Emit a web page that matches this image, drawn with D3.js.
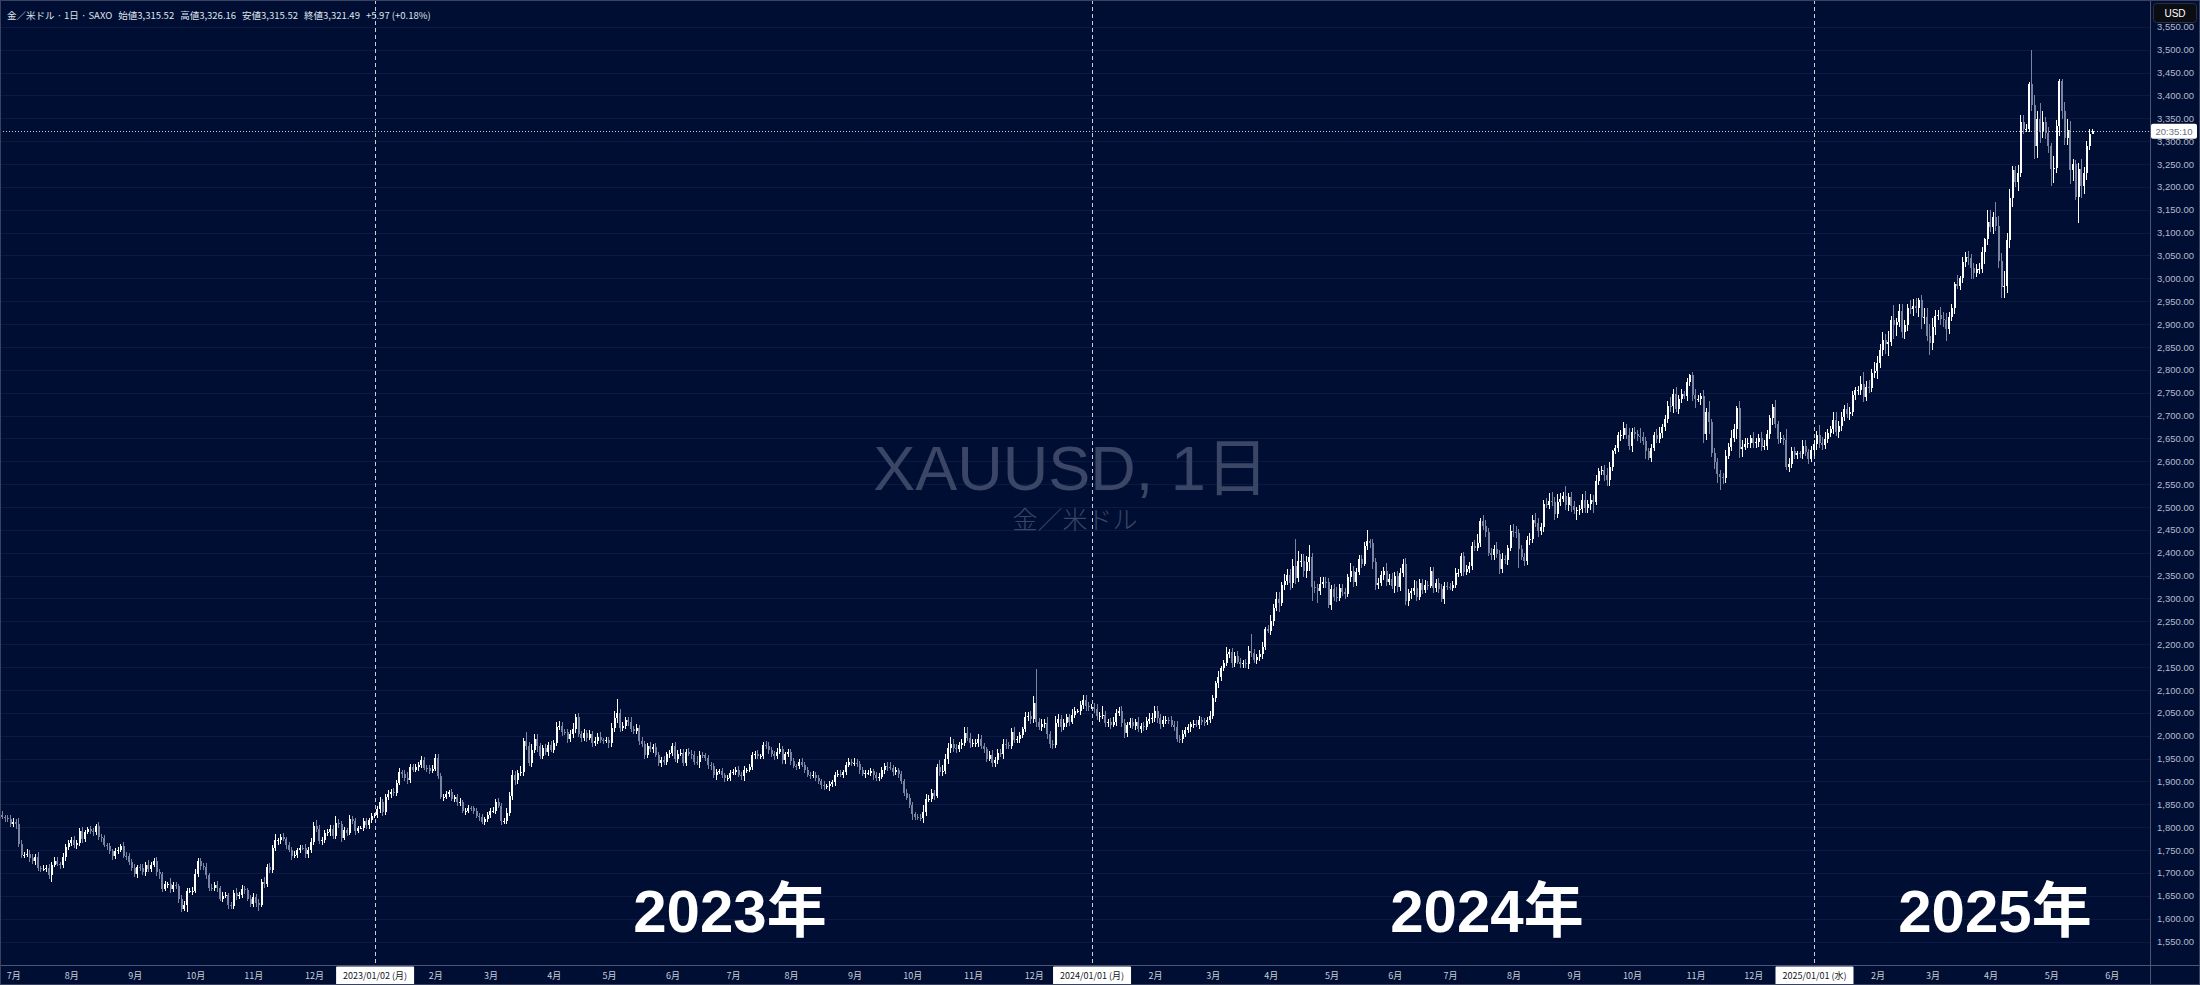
<!DOCTYPE html>
<html><head><meta charset="utf-8">
<script src="https://cdn.jsdelivr.net/npm/d3@7"></script>
<style>html,body{margin:0;padding:0;background:#000e33;}svg{display:block}</style>
</head><body><svg id="c" width="2200" height="985"></svg>
<script>
// ---------------- DATA (daily closes, grouped by month) ----------------
const close2022 = [
 [1827,1822,1820,1817,1807],
 [1811,1808,1764,1739,1740, 1742,1733,1725,1735,1711, 1708,1709,1711,1696,1718, 1727,1719,1717,1734,1756, 1766],
 [1772,1760,1765,1791,1775, 1789,1795,1792,1789,1802, 1779,1776,1761,1758,1747, 1736,1748,1751,1758,1738, 1737,1723,1711],
 [1697,1712, 1710,1702,1718,1708,1717, 1725,1702,1697,1665,1675, 1676,1664,1674,1671,1644, 1622,1629,1660,1660,1661],
 [1698,1725,1716,1712,1695, 1668,1666,1673,1666,1644, 1650,1652,1629,1627,1657, 1649,1652,1665,1663,1644, 1633],
 [1647,1635,1630,1681, 1676,1712,1706,1755,1771, 1771,1778,1774,1761,1751, 1738,1740,1750,1755,1754, 1741,1750,1768],
 [1803,1797, 1769,1772,1787,1789,1797, 1781,1810,1807,1777,1793, 1788,1818,1813,1792,1798, 1798,1814,1804,1815,1824]
];
const close2023 = [
 [1827,1839,1855,1833,1865, 1872,1877,1875,1897,1920, 1916,1908,1904,1932,1926, 1931,1937,1946,1930,1929, 1923,1928],
 [1951,1912,1865, 1867,1873,1876,1862,1865, 1854,1854,1836,1836,1842, 1841,1835,1825,1822,1811, 1817,1826],
 [1836,1836,1855, 1847,1813,1814,1831,1868, 1913,1904,1918,1920,1988, 1978,1940,1969,1993,1977, 1956,1973,1964,1980,1969],
 [1984,2020,2021,2008,2007, 1992,2003,2015,2040,2004, 1995,2006,1995,2004,1983, 1989,1998,1990,1988,1990],
 [1983,2017,2039,2050,2017, 2021,2034,2030,2015,2011, 2017,1989,1982,1958,1978, 1971,1975,1958,1941,1946, 1943,1959,1963],
 [1978,1948, 1961,1963,1940,1965,1961, 1957,1943,1942,1958,1957, 1951,1936,1933,1913,1921, 1923,1914,1907,1908,1919],
 [1921,1926,1915,1911,1925, 1925,1932,1957,1961,1955, 1955,1979,1977,1969,1961, 1955,1965,1971,1946,1959, 1965],
 [1944,1934,1933,1943, 1936,1925,1915,1913,1914, 1907,1901,1892,1889,1889, 1894,1898,1915,1917,1915, 1920,1937,1942,1940],
 [1940, 1938,1926,1916,1919,1919, 1922,1913,1908,1910,1924, 1934,1931,1930,1920,1925, 1916,1900,1875,1864,1849],
 [1828,1822,1821,1820,1833, 1861,1861,1874,1868,1932, 1920,1923,1948,1974,1981, 1973,1971,1979,1985,2006, 1996,1983],
 [1983,1985,1992, 1978,1970,1950,1958,1940, 1946,1963,1959,1981,1980, 1977,2007,1990,1992,2002, 2014,2041,2044,2036],
 [2072, 2029,2019,2025,2028,2004, 1982,1980,2027,2036,2019, 2027,2040,2031,2046,2053, 2053,2067,2077,2065,2063]
];
const close2024 = [
 [2063,2059,2042,2043,2045, 2027,2029,2024,2029,2049, 2055,2028,2006,2023,2029, 2021,2029,2015,2021,2018, 2033,2037,2039],
 [2055,2039, 2025,2035,2035,2034,2024, 2020,1993,1992,2004,2013, 2018,2025,2026,2024,2035, 2031,2030,2034,2044],
 [2083, 2115,2128,2148,2159,2179, 2182,2158,2174,2162,2156, 2160,2157,2186,2181,2165, 2172,2178,2194,2233,2230],
 [2251,2280,2300,2290,2329, 2338,2352,2333,2372,2344, 2383,2383,2361,2379,2391, 2326,2322,2316,2332,2337, 2335,2286],
 [2320,2304,2301, 2323,2314,2309,2346,2360, 2336,2358,2386,2376,2415, 2425,2421,2379,2329,2334, 2351,2361,2337,2343,2327],
 [2350,2326,2355,2375,2294, 2311,2316,2324,2303,2333, 2319,2330,2328,2360,2322, 2334,2320,2298,2327,2326],
 [2324,2330,2356,2356,2392, 2358,2364,2372,2415,2411, 2422,2469,2459,2445,2400, 2396,2409,2398,2365,2386, 2384,2410,2447],
 [2446,2443, 2409,2390,2382,2427,2431, 2472,2465,2447,2456,2507, 2504,2514,2512,2485,2512, 2518,2525,2504,2521,2503],
 [2493,2493,2495,2516,2497, 2506,2516,2512,2558,2578, 2582,2569,2559,2587,2622, 2628,2657,2657,2672,2658, 2634],
 [2663,2659,2656,2653, 2644,2622,2608,2630,2657, 2649,2662,2674,2693,2721, 2720,2748,2715,2736,2747, 2743,2774,2788,2744],
 [2736, 2736,2742,2659,2707,2685, 2618,2598,2573,2565,2563, 2612,2631,2651,2670,2716, 2626,2632,2638,2640,2650],
 [2640,2643,2650,2632,2633, 2660,2694,2718,2681,2648, 2652,2646,2587,2594,2622, 2613,2618,2616,2634,2621, 2606,2624]
];
const close2025 = [
 [2637,2658,2640, 2636,2649,2662,2670,2690, 2663,2677,2696,2715,2703, 2708,2744,2755,2756,2770, 2740,2763,2760,2794,2798],
 [2815,2843,2866,2857,2861, 2908,2898,2904,2929,2882, 2898,2935,2933,2939,2936, 2952,2915,2916,2875,2858],
 [2893,2918,2920,2911,2910, 2889,2916,2935,2988,2984, 3001,3035,3047,3044,3022, 3012,3020,3020,3057,3085, 3124],
 [3113,3134,3114,3037, 2982,2983,3083,3175,3237, 3210,3230,3343,3327,3327, 3424,3380,3289,3349,3319, 3343,3317,3289],
 [3239,3241, 3334,3431,3366,3306,3325, 3236,3249,3178,3240,3202, 3230,3289,3315.52,3321.49]
];
// upper wick above the body top, in USD
const wickHi2022 = [
 [6,8,5,7,9],
 [9,6,12,8,6,10,7,9,6,10,5,8,7,9,6,8,7,5,10,8,6],
 [6,9,8,7,10,5,6,8,7,5,9,6,7,5,8,6,7,5,6,9,7,6,8],
 [8,6,7,9,5,10,6,8,9,7,6,8,5,12,7,6,5,8,10,6,7,9],
 [10,8,7,6,9,5,7,8,10,6,9,7,5,8,6,9,7,8,6,5,7],
 [8,6,7,6,9,8,10,7,15,6,8,9,5,7,6,8,5,6,7,9,6,8],
 [9,12,8,6,7,6,8,7,14,8,6,7,5,9,6,8,5,4,7,6,5,7]
];
const wickLo2022 = [
 [5,4,8,6,6],
 [6,12,8,7,6,5,9,5,8,7,6,4,7,9,16,6,5,8,6,7,5],
 [7,5,8,6,9,7,5,6,8,7,6,9,5,7,6,8,5,7,6,5,8,6,7],
 [6,8,5,7,9,6,7,5,8,10,7,5,8,9,6,7,9,8,6,14,5,8],
 [5,7,9,6,8,7,5,6,8,6,7,5,9,7,6,8,5,7,9,6,8],
 [7,9,14,5,8,6,7,6,8,9,7,5,8,6,9,5,7,6,5,8,9,6],
 [6,8,5,9,7,6,8,6,7,9,10,6,8,5,7,9,4,3,6,7,8,5]
];
const wickHi2023 = [
 [5,8,10,6,7,9,6,8,7,9,5,8,12,6,7,8,5,9,7,6,8,9],
 [9,8,6,5,7,6,8,5,7,9,6,5,7,4,6,8,5,7,6,8],
 [6,8,7,9,5,6,10,8,12,10,8,14,7,21,9,12,10,11,8,7,9,6,8],
 [7,9,11,8,6,7,10,12,8,9,6,8,7,9,6,8,7,9,6,8],
 [8,10,14,31,9,8,7,6,10,7,9,6,8,7,6,9,7,8,6,7,9,6,5],
 [6,9,8,7,9,6,8,7,10,12,8,6,5,7,6,8,7,5,6,4,7,6],
 [7,5,8,6,9,4,7,8,6,7,5,8,10,9,7,6,8,12,6,5,7],
 [6,8,5,7,9,6,7,5,8,6,7,5,8,6,7,5,6,7,8,5,6,9,8],
 [12,8,7,6,5,7,8,6,7,9,8,7,9,12,7,6,5,7,6,8,9],
 [6,5,7,8,16,12,9,10,8,7,15,12,11,10,16,11,9,8,7,12,13,10],
 [10,8,11,9,7,6,8,10,7,9,8,11,12,6,9,12,8,7,6,11,8,9],
 [14,74,10,11,9,12,6,8,15,11,10,9,8,7,12,10,5,8,11,13,9]
];
const wickLo2023 = [
 [4,6,7,9,6,5,8,6,7,5,8,6,9,7,5,6,8,7,6,8,7,5],
 [6,7,4,8,6,7,5,6,8,7,5,9,6,5,7,6,8,5,7,6],
 [7,5,8,6,9,5,7,6,8,11,9,7,8,10,6,9,7,12,8,6,7,9,5],
 [6,7,8,9,5,7,6,8,10,7,9,6,8,5,7,6,8,7,6,5],
 [10,7,9,11,8,6,7,9,6,8,7,9,6,8,7,6,8,5,7,9,6,8,7],
 [7,6,8,5,6,7,5,8,6,7,12,5,6,8,7,6,9,5,6,8,5,7],
 [6,8,5,7,9,6,5,7,8,6,7,5,6,8,7,9,5,6,8,7,6],
 [7,5,8,6,5,7,6,8,5,7,6,8,7,5,9,6,7,5,6,8,7,5,6],
 [6,7,9,5,8,6,7,9,8,6,5,7,8,6,9,7,8,6,7,5,7],
 [13,7,6,6,10,8,6,7,9,5,9,8,6,10,12,9,8,6,9,7,8,9],
 [8,7,9,6,8,7,6,9,8,7,6,9,8,7,6,5,7,8,6,7,9,11],
 [8,11,7,9,8,12,9,10,6,9,11,7,8,9,6,8,4,7,9,10,8]
];
const wickHi2024 = [
 [6,8,10,9,20,8,7,9,12,10,7,9,8,6,10,9,8,11,7,9,8,12,10],
 [10,11,9,8,7,6,8,9,12,8,9,7,8,6,9,8,7,6,8,7,9],
 [5,4,13,4,7,16,7,9,10,12,8,6,8,10,36,8,6,9,11,5,8],
 [14,8,15,14,8,16,13,12,14,59,20,15,14,14,27,8,12,10,15,9,11,10],
 [10,12,22,8,9,10,8,18,12,9,10,9,8,25,6,10,9,11,9,8,16,11,13],
 [8,10,11,12,13,9,8,16,14,10,9,11,8,8,8,9,10,12,8,9],
 [7,9,10,9,8,9,10,8,9,12,18,8,14,12,10,11,9,14,8,13,9,8,14],
 [15,12,8,9,10,9,12,10,14,11,8,8,12,17,19,9,16,12,8,20,10,12],
 [10,8,9,13,19,9,12,10,12,8,8,10,16,12,3,8,6,11,13,10,14],
 [9,12,10,16,10,9,7,8,6,14,12,7,8,11,20,10,15,8,12,6,8,2,8],
 [13,8,8,14,9,24,8,11,10,9,9,12,9,18,11,5,15,15,12,11,8],
 [13,9,10,15,13,8,7,8,15,8,12,6,25,14,10,9,5,4,12,13,6,10]
];
const wickLo2024 = [
 [5,9,8,11,7,9,8,10,6,8,7,9,10,8,6,7,9,8,10,7,6,8,9],
 [8,12,10,7,9,8,6,9,7,9,8,6,7,9,8,6,9,7,8,6,7],
 [8,9,10,8,7,6,10,9,8,6,7,9,8,11,8,7,9,8,10,7,6],
 [9,11,8,19,7,11,9,14,10,12,9,14,13,17,18,32,10,25,9,10,11,7],
 [11,10,9,7,8,10,6,9,10,8,7,10,6,9,11,14,10,8,7,11,9,8,7],
 [15,12,9,8,8,10,13,9,8,7,9,8,10,6,9,8,7,6,9,7],
 [6,7,8,10,7,8,6,9,10,7,8,10,9,11,8,12,11,10,12,9,8,10,7],
 [11,10,43,6,10,8,9,9,8,12,9,10,7,9,10,14,9,10,7,10,12,14],
 [9,22,11,8,9,10,12,24,8,10,9,12,13,13,9,7,8,12,9,10,9],
 [14,10,11,12,9,18,5,9,8,9,9,10,8,9,12,15,8,12,9,7,12,9,12],
 [19,7,12,20,12,25,9,14,20,28,13,10,8,8,9,21,19,16,8,10,12],
 [10,12,11,9,7,8,12,14,9,10,7,10,5,11,8,9,7,8,10,9,11,8]
];
const wickHi2025 = [
 [9,8,22,14,15,9,8,17,18,12,11,9,12,10,9,8,9,16,26,12,14,8,19],
 [15,14,16,12,25,10,34,10,14,14,12,10,18,16,19,4,12,19,20,25],
 [20,12,11,17,15,14,10,8,3,20,4,12,10,13,10,12,12,13,12,3,25],
 [25,12,33,22,18,33,16,20,8,8,17,14,14,10,6,76,20,18,35,24,9,13],
 [8,26,13,6,4,20,24,19,13,9,12,22,14,12,10,4.67]
];
const wickLo2025 = [
 [13,12,10,11,9,10,9,11,7,12,10,8,9,13,10,11,9,12,10,9,11,8,12],
 [18,12,13,22,27,9,30,25,10,12,14,13,10,16,12,20,26,15,11,26],
 [15,17,10,12,16,25,10,9,13,8,10,12,10,15,24,13,10,11,9,25,12],
 [12,15,10,15,25,26,14,16,18,11,20,9,11,8,8,13,29,25,23,13,12,14],
 [37,30,10,22,18,15,15,29,23,7,58,26,18,16,8,0]
];
const firstOpen = 1825;
const firstDay = new Date(2022, 5, 24);
const lastDay = new Date(2025, 4, 22);
const axisEnd = new Date(2025, 5, 10);
const priceTicks = d3.range(1550, 3551, 50);
const weekdayNames = ["日","月","火","水","木","金","土"];
const headerParts = ["金／米ドル · 1日 · SAXO", "始値3,315.52", "高値3,326.16", "安値3,315.52", "終値3,321.49", "+5.97 (+0.18%)"];
const watermark = "XAUUSD, 1日";
const watermarkSub = "金／米ドル";
const yearLabels = ["2023年", "2024年", "2025年"];
const countdown = "20:35:10";

// ---------------- BUILD ----------------
const allDays = d3.timeDay.range(firstDay, d3.timeDay.offset(axisEnd, 1)).filter(d => d.getDay() !== 0 && d.getDay() !== 6);
const dataDays = allDays.filter(d => d <= lastDay);
const closeMonths = [...close2022, ...close2023, ...close2024, ...close2025];
const hiMonths = [...wickHi2022, ...wickHi2023, ...wickHi2024, ...wickHi2025];
const loMonths = [...wickLo2022, ...wickLo2023, ...wickLo2024, ...wickLo2025];
const monthCounts = d3.groups(dataDays, d => d.getFullYear() * 12 + d.getMonth()).map(g => g[1].length);
const errs = [];
monthCounts.forEach((n, k) => {
  if (!closeMonths[k] || closeMonths[k].length !== n) errs.push("close m" + k + " " + (closeMonths[k]||[]).length + "!=" + n);
  if (!hiMonths[k] || hiMonths[k].length !== n) errs.push("hi m" + k + " " + (hiMonths[k]||[]).length + "!=" + n);
  if (!loMonths[k] || loMonths[k].length !== n) errs.push("lo m" + k + " " + (loMonths[k]||[]).length + "!=" + n);
});
if (errs.length) console.error("DATA MISMATCH: " + errs.join("; "));
const closes = closeMonths.flat(), wHi = hiMonths.flat(), wLo = loMonths.flat();
const n = Math.min(closes.length, dataDays.length);
const bars = [];
for (let i = 0; i < n; i++) {
  const o = i === 0 ? firstOpen : closes[i - 1];
  const c = closes[i];
  bars.push({ i, date: dataDays[i], o, c, h: Math.max(o, c) + (wHi[i] || 0), l: Math.min(o, c) - (wLo[i] || 0) });
}

const W = 2200, H = 985, plotR = 2150, axisY = 965;
const idxOf = dt => allDays.findIndex(d => +d === +dt);
const i23 = idxOf(new Date(2023, 0, 2)), i25 = idxOf(new Date(2025, 0, 1));
const x = d3.scaleLinear().domain([i23, i25]).range([374.6, 1814.0]);
const y = d3.scaleLinear().domain([1550, 3350]).range([941.5, 118.3]);

const svg = d3.select("#c");
svg.append("rect").attr("width", W).attr("height", H).attr("fill", "#000e33");
const defs = svg.append("defs");
defs.append("clipPath").attr("id", "clip").append("rect").attr("x", 0).attr("y", 0).attr("width", plotR).attr("height", axisY);

// grid
svg.append("g").selectAll("line").data(priceTicks).join("line")
  .attr("x1", 0).attr("x2", plotR)
  .attr("y1", d => Math.round(y(d)) + 0.5).attr("y2", d => Math.round(y(d)) + 0.5)
  .attr("stroke", "#0c1a42").attr("stroke-width", 1);

// watermark
svg.append("text").attr("x", 1071).attr("y", 490).attr("text-anchor", "middle")
  .attr("font-family", "'Liberation Sans', 'Noto Sans CJK JP', sans-serif").attr("font-size", 63)
  .attr("fill", "#3b4566").text(watermark);
svg.append("text").attr("x", 1075).attr("y", 529).attr("text-anchor", "middle")
  .attr("font-family", "'Noto Sans CJK JP', sans-serif").attr("font-size", 25).attr("font-weight", 300)
  .attr("fill", "#3b4566").text(watermarkSub);

// month starts
const monthStarts = allDays.map((d, i) => ({ d, i })).filter(o => o.i > 0 && o.d.getMonth() !== allDays[o.i - 1].getMonth());
const yearStarts = monthStarts.filter(o => o.d.getMonth() === 0);

// year separators (dashed)
svg.append("g").selectAll("line").data(yearStarts).join("line")
  .attr("x1", o => Math.round(x(o.i)) + 0.5).attr("x2", o => Math.round(x(o.i)) + 0.5)
  .attr("y1", 0).attr("y2", axisY)
  .attr("stroke", "#c9cede").attr("stroke-width", 1).attr("stroke-dasharray", "4,3");

// candles
const gC = svg.append("g").attr("clip-path", "url(#clip)").attr("shape-rendering", "crispEdges");
const upCol = "#ffffff", downCol = "#7a839f";
gC.selectAll("rect.w").data(bars).join("rect").attr("class", "w")
  .attr("x", d => x(d.i) - 0.5).attr("width", 1)
  .attr("y", d => y(d.h)).attr("height", d => Math.max(1, y(d.l) - y(d.h)))
  .attr("fill", d => d.c >= d.o ? upCol : downCol);
gC.selectAll("rect.b").data(bars).join("rect").attr("class", "b")
  .attr("x", d => x(d.i) - 1).attr("width", 2)
  .attr("y", d => y(Math.max(d.o, d.c))).attr("height", d => Math.max(1, Math.abs(y(d.o) - y(d.c))))
  .attr("fill", d => d.c >= d.o ? upCol : downCol);

// current price line
const last = bars[bars.length - 1];
svg.append("line").attr("x1", 0).attr("x2", plotR)
  .attr("y1", Math.round(y(last.c)) + 0.5).attr("y2", Math.round(y(last.c)) + 0.5)
  .attr("stroke", "#c8ccd8").attr("stroke-width", 1).attr("stroke-dasharray", "1,2");

// year labels
const yearCenters = [730, 1487, 1995];
svg.append("g").selectAll("text").data(yearLabels).join("text")
  .attr("x", (d, k) => yearCenters[k]).attr("y", 932).attr("text-anchor", "middle")
  .attr("font-family", "'Liberation Sans', 'Noto Sans CJK JP', sans-serif").attr("font-weight", 700)
  .attr("font-size", 60).attr("fill", "#ffffff").text(d => d);

// header
const hdr = svg.append("text").attr("x", 7).attr("y", 18.5)
  .attr("font-family", "'Noto Sans CJK JP', sans-serif").attr("font-size", 9.5)
  .attr("fill", "#dfe2ea");
headerParts.forEach((p, k) => hdr.append("tspan").attr("dx", k === 0 ? 0 : 6).text(p));

// axes separators
svg.append("line").attr("x1", plotR + 0.5).attr("x2", plotR + 0.5).attr("y1", 0).attr("y2", H).attr("stroke", "#4c5574");
svg.append("line").attr("x1", 0).attr("x2", W).attr("y1", axisY + 0.5).attr("y2", axisY + 0.5).attr("stroke", "#4c5574");

// price axis
const yAxis = d3.axisRight(y).tickValues(priceTicks).tickFormat(d3.format(",.2f")).tickSize(0).tickPadding(7);
const gy = svg.append("g").attr("transform", `translate(${plotR},0)`).call(yAxis);
gy.select(".domain").remove();
gy.selectAll("text").attr("fill", "#b4bacb").attr("font-size", 9.5).attr("font-family", "'Liberation Sans', Arial, sans-serif");

// time axis
const fmtDate = d3.timeFormat("%Y/%m/%d");
const xAxis = d3.axisBottom(x).tickValues(monthStarts.map(o => o.i)).tickSize(0)
  .tickFormat(i => { const d = allDays[i]; return d.getMonth() === 0 ? fmtDate(d) + " (" + weekdayNames[d.getDay()] + ")" : (d.getMonth() + 1) + "月"; });
const gx = svg.append("g").attr("transform", `translate(0,${axisY})`).call(xAxis);
gx.select(".domain").remove();
gx.selectAll("text").attr("y", 10.5).attr("dy", "0.35em")
  .attr("font-family", "'Noto Sans CJK JP', sans-serif").attr("font-size", 9)
  .attr("fill", "#c9cdd8");
gx.selectAll(".tick").filter(i => allDays[i].getMonth() === 0).each(function () {
  const t = d3.select(this);
  t.insert("rect", "text").attr("x", -39).attr("y", 1.5).attr("width", 78).attr("height", 19).attr("fill", "#ffffff").attr("rx", 1);
  t.select("text").attr("fill", "#131722");
});

// countdown box on price line
const py = y(last.c);
svg.append("rect").attr("x", 2151).attr("y", py - 7.5).attr("width", 46).attr("height", 15).attr("fill", "#ffffff").attr("rx", 2);
svg.append("text").attr("x", 2174).attr("y", py).attr("dy", "0.35em").attr("text-anchor", "middle")
  .attr("font-family", "'Liberation Sans', Arial, sans-serif").attr("font-size", 9.5).attr("fill", "#6b7080").text(countdown);

// USD box
svg.append("rect").attr("x", 2153.5).attr("y", 3.5).attr("width", 43).attr("height", 19).attr("rx", 3)
  .attr("fill", "#0b0d12").attr("stroke", "#2a2f3d");
svg.append("text").attr("x", 2175).attr("y", 13).attr("dy", "0.35em").attr("text-anchor", "middle")
  .attr("font-family", "'Liberation Sans', Arial, sans-serif").attr("font-size", 10).attr("fill", "#ffffff").text("USD");

// outer border
svg.append("rect").attr("x", 0.5).attr("y", 0.5).attr("width", W - 1).attr("height", H - 1)
  .attr("fill", "none").attr("stroke", "#3a4262");
</script></body></html>
